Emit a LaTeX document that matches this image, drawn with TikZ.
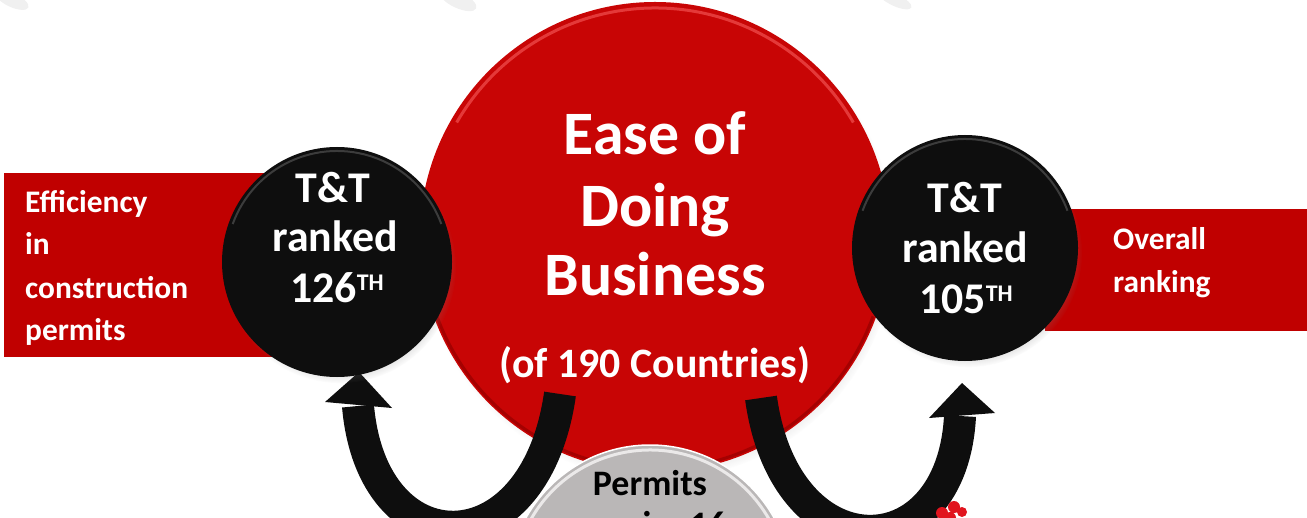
\documentclass[tikz,border=0pt]{standalone}
\usepackage{fontspec}
\setmainfont{Carlito}
\usetikzlibrary{shadows}
\definecolor{ballred}{RGB}{200,5,5}
\definecolor{rimred}{RGB}{236,70,70}
\definecolor{deepred}{RGB}{150,0,0}
\definecolor{bandred}{RGB}{192,0,0}
\definecolor{ink}{RGB}{14,14,14}
\definecolor{rimdark}{RGB}{80,80,80}
\definecolor{pgray}{RGB}{186,183,183}
\definecolor{pgraylight}{RGB}{235,233,233}
\definecolor{splotch}{RGB}{225,20,30}
\begin{document}
\begin{tikzpicture}[x=1bp,y=-1bp,
  ballshadow/.style={circular drop shadow={shadow xshift=3bp, shadow yshift=-5bp, shadow scale=1.01, opacity=.4}},
  redball/.style={circle, inner sep=0pt, fill=ballred, ballshadow},
  blackball/.style={circle, inner sep=0pt, fill=ink, ballshadow},
  grayball/.style={circle, inner sep=0pt, fill=pgray, ballshadow},
  band/.style={fill=bandred},
  shaft/.style={draw=ink, line width=32bp, line cap=butt},
  head/.style={fill=ink},
  wline/.style={inner sep=0pt, anchor=base, text=white},
  bandline/.style={inner sep=0pt, anchor=base west, text=white, font=\fontsize{31.5}{31.5}\selectfont\bfseries},
  rankline/.style={wline, font=\fontsize{44}{44}\selectfont\bfseries},
  bigline/.style={wline, font=\fontsize{62}{62}\selectfont\bfseries},
]
\useasboundingbox (0,0) rectangle (1307,518);
\clip (0,0) rectangle (1307,518);

% faint shadows at the top edge
\fill[black, opacity=.06, rotate around={-25:(12,0)}] (12,0) ellipse [x radius=18, y radius=7];
\fill[black, opacity=.06, rotate around={-25:(458,0)}] (458,0) ellipse [x radius=20, y radius=8];
\fill[black, opacity=.06, rotate around={-25:(895,0)}] (895,0) ellipse [x radius=18, y radius=6];

% bands
\fill[band] (4,173) rectangle (340,357);
\fill[band] (1045,209) rectangle (1307,331);

% big red ball
\node[redball, minimum size=470bp] (ease) at (655,237) {};
\draw[rimred, line width=3bp, opacity=.8] (ease.center) ++(-150:229) arc[start angle=-150, end angle=-30, radius=229];
\draw[deepred, line width=3bp, opacity=.7] (ease.center) ++(20:232) arc[start angle=20, end angle=160, radius=232];

% coordinates of connectors
\coordinate (ltail) at (560,394);
\coordinate (lbase) at (358,406);
\coordinate (ltip) at (359,372);
\coordinate (lhl) at (325,402);
\coordinate (lhr) at (392,408);
\coordinate (rtail) at (761,398);
\coordinate (rbase) at (960,416);
\coordinate (rtip) at (962,383);
\coordinate (rhl) at (929,418);
\coordinate (rhr) at (995,413);

% curved arrows
\draw[shaft] (ltail) .. controls (535,570) and (372,568) .. (lbase);
\fill[head] (ltip) -- (lhl) -- (lhr) -- cycle;
\draw[shaft] (rtail) .. controls (785,572) and (952,572) .. (rbase);
\fill[head] (rtip) -- (rhl) -- (rhr) -- cycle;

% gray ball
\node[grayball, minimum size=284bp, draw=white, line width=1.5bp] (permits) at (650,587) {};
\draw[pgraylight, line width=3bp] (permits.center) ++(-150:137) arc[start angle=-150, end angle=-30, radius=137];

% black balls
\node[blackball, minimum size=230bp] (rankA) at (337,262) {};
\draw[rimdark, line width=2bp, opacity=.7] (rankA.center) ++(-160:111) arc[start angle=-160, end angle=-20, radius=111];
\node[blackball, minimum size=226bp] (rankB) at (965,248) {};
\draw[rimdark, line width=2bp, opacity=.7] (rankB.center) ++(-160:109) arc[start angle=-160, end angle=-20, radius=109];

% red splotch
\fill[splotch] (942,513) circle (6) (954,507) circle (6) (962,512) circle (5) (950,518) circle (6);

% texts
\node[bandline] (e1) at (25,213) {Efficiency};
\node[bandline] (e2) at (25,255) {in};
\node[bandline] (e3) at (25,298) {construction};
\node[bandline] (e4) at (25,340) {permits};

\node[bandline] (o1) at (1113,250) {Overall};
\node[bandline] (o2) at (1113,292) {ranking};

\node[rankline] (a1) at (333,203) {T\&T};
\node[rankline] (a2) at (335,252) {ranked};
\node[rankline] (a3) at (337,302) {126\raisebox{12bp}{\fontsize{24}{24}\selectfont TH}};

\node[rankline] (b1) at (965,213) {T\&T};
\node[rankline] (b2) at (965,262) {ranked};
\node[rankline] (b3) at (966,313) {105\raisebox{12bp}{\fontsize{24}{24}\selectfont TH}};

\node[bigline] (t1) at (655,155) {Ease of};
\node[bigline] (t2) at (655,227) {Doing};
\node[bigline] (t3) at (655,295) {Business};
\node[wline, font=\fontsize{42}{42}\selectfont\bfseries] (t4) at (655,377) {(of 190 Countries)};

\node[inner sep=0pt, anchor=base, text=black, font=\fontsize{36}{36}\selectfont\bfseries] (p1) at (650,495) {Permits};
\node[inner sep=0pt, anchor=base, text=black, font=\fontsize{36}{36}\selectfont\bfseries] (p2) at (650,536) {require 16};
\end{tikzpicture}
\end{document}
